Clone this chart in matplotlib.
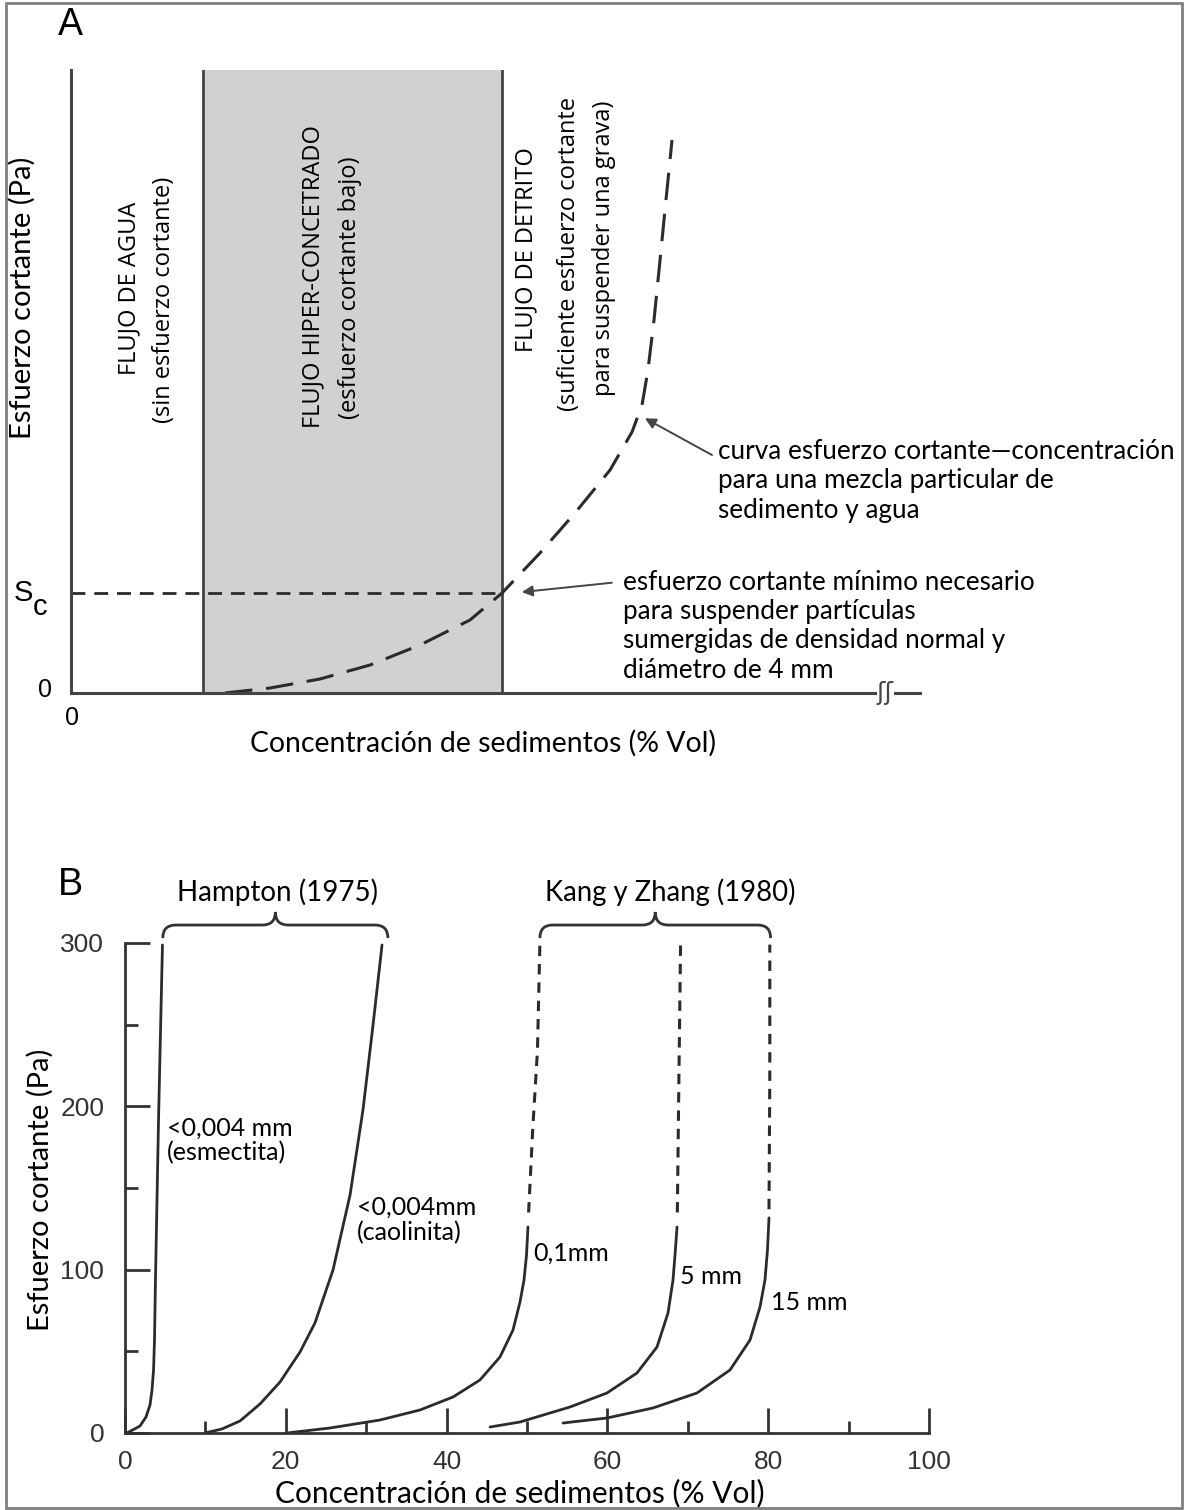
import numpy as np
import matplotlib
matplotlib.use("Agg")
import matplotlib.pyplot as plt
from matplotlib.path import Path
from matplotlib.patches import PathPatch, Rectangle

W, H = 1184, 1510

# ---- panel A (schematic, arbitrary units 0-100) ----
zone_hiper = (15.5, 50.8)          # x range of hyper-concentrated flow
sc_level = 16.05                   # Sc level
curve_a_x = [18.14, 23.44, 29.33, 35.22, 41.11, 47.0, 50.77, 55.24, 59.36,
             63.49, 66.08, 67.26, 67.96, 68.67, 69.38, 70.08, 70.79]
curve_a_y = [0.0, 0.8, 2.25, 4.49, 7.7, 11.72, 16.05, 22.47, 28.89,
             35.79, 41.89, 46.23, 51.85, 59.87, 69.5, 79.13, 88.76]

# ---- panel B (Pa vs % Vol) ----
esmectita_x = [0.25, 1.87, 2.61, 3.11, 3.36, 3.55, 3.67, 3.79, 3.98, 4.17, 4.42, 4.66]
esmectita_y = [0, 4.29, 9.8, 17.15, 26.34, 38.58, 56.95, 93.69, 142.7, 191.7, 246.8, 298.8]
caolinita_x = [9.95, 12.06, 14.3, 16.79, 19.28, 21.77, 23.63, 25.87, 27.99, 29.6, 30.85, 31.97]
caolinita_y = [0, 2.45, 7.35, 17.76, 31.2, 49.6, 67.4, 99.8, 145.7, 197.8, 249.8, 298.8]
mm01_x = [20.15, 25.5, 31.72, 36.69, 40.8, 44.15, 46.64, 48.26, 49.13, 49.63, 49.94, 50.12]
mm01_y = [0, 3.06, 7.96, 14.08, 22.05, 32.46, 46.54, 63.07, 80.22, 93.69, 109.0, 126.1]
mm01_dash_x = [50.2, 50.7, 51.3, 51.6]
mm01_dash_y = [135, 185, 234, 299]
mm5_x = [45.4, 49.13, 55.35, 59.95, 63.68, 66.17, 67.54, 68.16, 68.41, 68.66]
mm5_y = [3.67, 6.74, 15.92, 24.49, 36.74, 52.66, 73.48, 93.69, 109.0, 126.1]
mm5_dash_x = [68.7, 68.9, 69.1]
mm5_dash_y = [135, 220, 299]
mm15_x = [54.48, 59.95, 65.67, 71.14, 75.25, 77.74, 78.98, 79.6, 79.91, 80.1]
mm15_y = [6.12, 9.19, 15.31, 24.49, 38.58, 56.95, 77.16, 93.69, 112.1, 131.7]
mm15_dash_x = [80.1, 80.2, 80.2]
mm15_dash_y = [137, 220, 299]

xticks_b = [0, 20, 40, 60, 80, 100]
yticks_b = [0, 100, 200, 300]

LINE = '#2b2b2b'
TXT = ['Lato', 'DejaVu Sans']
VTXT = ['Open Sans', 'DejaVu Sans']
NUM = ['Liberation Sans Narrow', 'Liberation Sans', 'DejaVu Sans']

fig = plt.figure(figsize=(W / 100, H / 100), dpi=100)
fig.patch.set_facecolor('white')


def fbox(l, t, r, b):
    return [l / W, 1 - b / H, (r - l) / W, (b - t) / H]


# ================= A =================
axA = fig.add_axes(fbox(71, 70, 920, 693))
axA.set_xlim(0, 100)
axA.set_ylim(0, 100)
for s in ['top', 'right']:
    axA.spines[s].set_visible(False)
for s in ['left', 'bottom']:
    axA.spines[s].set_color('#444444')
    axA.spines[s].set_linewidth(2.2)
axA.set_xticks([])
axA.set_yticks([])

axA.axvspan(zone_hiper[0], zone_hiper[1], color='#d1d1d1', zorder=0)
axA.axvline(zone_hiper[0], color='#444444', lw=2)
axA.axvline(zone_hiper[1], color='#444444', lw=2)
axA.plot([0, zone_hiper[1]], [sc_level, sc_level], color=LINE, lw=2,
         linestyle=(0, (5, 3.2)))
axA.plot(curve_a_x, curve_a_y, color=LINE, lw=2.2, linestyle=(0, (9, 4.5)))

# axis break
axA.text(95.9, 0, '\u0283\u0283', fontsize=18, ha='center', va='center',
         color='#444444', family=['DejaVu Sans'], clip_on=False,
         bbox=dict(fc='white', ec='none', pad=0))

axA.text(-3.1, 0.5, '0', fontsize=18, family=NUM, ha='center', va='center')
axA.text(0.1, -4.0, '0', fontsize=18, family=NUM, ha='center', va='center')
axA.text(-5.6, 16.0, 'S', fontsize=21, family=NUM, ha='center', va='center')
axA.text(-3.6, 13.8, 'c', fontsize=21, family=NUM, ha='center', va='center')

vs = 17
axA.text(6.9, 65.0, 'FLUJO DE AGUA', rotation=90, fontsize=vs, family=VTXT,
         ha='center', va='center')
axA.text(10.9, 63.1, '(sin esfuerzo cortante)', rotation=90, fontsize=vs,
         family=VTXT, ha='center', va='center')
axA.text(28.6, 66.8, 'FLUJO HIPER-CONCETRADO', rotation=90, fontsize=vs,
         family=VTXT, ha='center', va='center')
axA.text(32.9, 65.0, '(esfuerzo cortante bajo)', rotation=90, fontsize=vs,
         family=VTXT, ha='center', va='center')
axA.text(53.6, 71.1, 'FLUJO DE DETRITO', rotation=90, fontsize=vs,
         family=VTXT, ha='center', va='center')
axA.text(58.6, 70.5, '(suficiente esfuerzo cortante', rotation=90,
         fontsize=vs, family=VTXT, ha='center', va='center')
axA.text(62.8, 71.4, 'para suspender una grava)', rotation=90, fontsize=vs,
         family=VTXT, ha='center', va='center')

arrow = dict(arrowstyle='-|>', color='#444444', lw=1.4, mutation_scale=16,
             shrinkA=0, shrinkB=0)
axA.annotate('', xy=(67.6, 44.1), xytext=(75.5, 38.2), arrowprops=arrow)
axA.text(76.2, 40.8, 'curva esfuerzo cortante\u2014concentración\n'
         'para una mezcla particular de\nsedimento y agua',
         fontsize=18.8, family=TXT, ha='left', va='top', linespacing=1.22)
axA.annotate('', xy=(53.1, 16.2), xytext=(63.7, 17.7), arrowprops=arrow)
axA.text(65.0, 19.8, 'esfuerzo cortante mínimo necesario\n'
         'para suspender partículas\nsumergidas de densidad normal y\n'
         'diámetro de 4 mm',
         fontsize=18.8, family=TXT, ha='left', va='top', linespacing=1.22)

fig.text(483 / W, 1 - 743 / H, 'Concentración de sedimentos (% Vol)',
         fontsize=20.4, family=TXT, ha='center', va='center')
fig.text(22 / W, 1 - 298 / H, 'Esfuerzo cortante (Pa)', rotation=90,
         fontsize=21, family=TXT, ha='center', va='center')
fig.text(70 / W, 1 - 25 / H, 'A', fontsize=27, family=NUM, ha='center',
         va='center')

# ================= B =================
axB = fig.add_axes(fbox(125, 943, 929, 1433))
axB.set_xlim(0, 100)
axB.set_ylim(0, 300)
for s in ['top', 'right']:
    axB.spines[s].set_visible(False)
for s in ['left', 'bottom']:
    axB.spines[s].set_color('#333333')
    axB.spines[s].set_linewidth(2)
axB.set_xticks(xticks_b)
axB.set_xticks([10, 30, 50, 70, 90], minor=True)
axB.set_yticks(yticks_b)
axB.set_yticks([50, 150, 250], minor=True)
axB.tick_params(which='major', direction='in', length=18, width=2,
                color='#333333', labelsize=19, pad=12)
axB.tick_params(which='minor', direction='in', length=9, width=2,
                color='#333333')
axB.tick_params(axis='y', which='major', pad=15)
for lab in axB.get_xticklabels() + axB.get_yticklabels():
    lab.set_family(NUM)
    lab.set_color('#333333')

for xs, ys in [(esmectita_x, esmectita_y), (caolinita_x, caolinita_y),
               (mm01_x, mm01_y), (mm5_x, mm5_y), (mm15_x, mm15_y)]:
    axB.plot(xs, ys, color=LINE, lw=2, solid_capstyle='round',
             solid_joinstyle='round')
for xs, ys in [(mm01_dash_x, mm01_dash_y), (mm5_dash_x, mm5_dash_y),
               (mm15_dash_x, mm15_dash_y)]:
    axB.plot(xs, ys, color=LINE, lw=2.2, linestyle=(0, (3.4, 2.6)))


def brace(ax, x0, x1, yb=303, ym=311, yt=319, q=1.6):
    xm = (x0 + x1) / 2
    verts = [(x0, yb), (x0, ym), (x0 + q, ym),
             (xm - q, ym),
             (xm, ym), (xm, yt),
             (xm, ym), (xm + q, ym),
             (x1 - q, ym),
             (x1, ym), (x1, yb)]
    codes = [Path.MOVETO, Path.CURVE3, Path.CURVE3,
             Path.LINETO,
             Path.CURVE3, Path.CURVE3,
             Path.CURVE3, Path.CURVE3,
             Path.LINETO,
             Path.CURVE3, Path.CURVE3]
    ax.add_patch(PathPatch(Path(verts, codes), fc='none', ec='#333333',
                           lw=2, clip_on=False))


brace(axB, 4.7, 32.7)
brace(axB, 51.6, 80.3)
axB.text(19.0, 331, 'Hampton (1975)', fontsize=20, family=TXT,
         ha='center', va='center')
axB.text(67.8, 331, 'Kang y Zhang (1980)', fontsize=19.8, family=TXT,
         ha='center', va='center')

axB.text(5.2, 179, '<0,004 mm\n(esmectita)', fontsize=18, family=TXT,
         ha='left', va='center', linespacing=1.1)
axB.text(28.8, 130.5, '<0,004mm\n(caolinita)', fontsize=18, family=TXT,
         ha='left', va='center', linespacing=1.1)
axB.text(50.8, 110, '0,1mm', fontsize=18, family=TXT, ha='left', va='center')
axB.text(69.0, 96, '5 mm', fontsize=18, family=TXT, ha='left', va='center')
axB.text(80.4, 80, '15 mm', fontsize=18, family=TXT, ha='left', va='center')

fig.text(520 / W, 1 - 1493 / H, 'Concentración de sedimentos (% Vol)',
         fontsize=21.5, family=TXT, ha='center', va='center')
fig.text(40 / W, 1 - 1190 / H, 'Esfuerzo cortante (Pa)', rotation=90,
         fontsize=21, family=TXT, ha='center', va='center')
fig.text(70 / W, 1 - 885 / H, 'B', fontsize=27, family=NUM, ha='center',
         va='center')

# frame
fig.patches.append(Rectangle((6 / W, 2 / H), 1176 / W, 1505 / H,
                             transform=fig.transFigure, fill=False,
                             ec='#808080', lw=2))

fig.savefig('out.png', dpi=100, facecolor='white')
